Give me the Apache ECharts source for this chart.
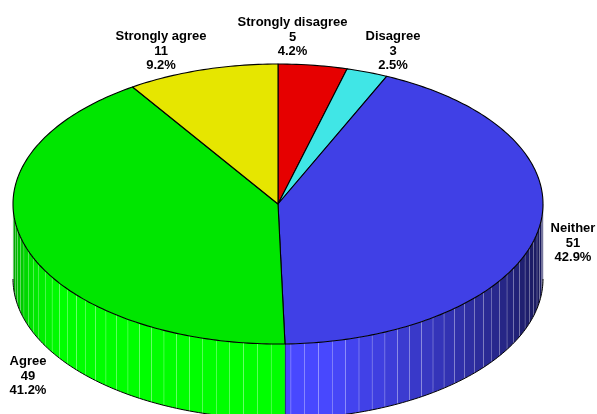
<!DOCTYPE html>
<html>
<head>
<meta charset="utf-8">
<style>html,body{margin:0;padding:0;background:#fff}#c{width:597px;height:414px}</style>
<script src="https://cdn.jsdelivr.net/npm/echarts@6/dist/echarts.min.js"></script>
</head>
<body>
<div id="c"></div>
<script>
var categories = ['Strongly disagree', 'Disagree', 'Neither', 'Agree', 'Strongly agree'];
var values = [5, 3, 51, 49, 11];

// Styles and layout, kept apart from the data
var topColors = ['#E60000', '#40E6E6', '#4040E6', '#00E600', '#E6E600'];
var sideColors = [[255, 0, 0], [72, 255, 255], [72, 72, 255], [0, 255, 0], [255, 255, 0]];
var labelCentres = [[292.5, 37], [393, 51], [573, 243], [28, 376], [161, 51]];
var shadeStops = [[90, .33], [110, .42], [130, .6], [150, .8], [170, 1], [235, 1], [250, .88], [270, .56]];
var CX = 278, CY = 204, RX = 265, RY = 140, DEPTH = 75, STEP = 3, SEAM = 0.14;

var total = values.reduce(function (a, b) { return a + b; }, 0);
var starts = [];
values.reduce(function (s, v, i) { starts[i] = s; return s + v; }, 0);

function pt(deg, dy, dx) {
  var r = deg * Math.PI / 180;
  return [CX + RX * Math.sin(r) + (dx || 0), CY - RY * Math.cos(r) + (dy || 0)];
}
function shade(deg) {
  for (var i = 1; i < shadeStops.length; i++) {
    if (deg <= shadeStops[i][0]) {
      return echarts.number.linearMap(deg, [shadeStops[i - 1][0], shadeStops[i][0]], [shadeStops[i - 1][1], shadeStops[i][1]]);
    }
  }
  return shadeStops[shadeStops.length - 1][1];
}
function toAngle(v) { return echarts.number.linearMap(v, [0, total], [0, 360]); }

function renderItem(params, api) {
  var i = params.dataIndex, v = api.value(0);
  var a0 = toAngle(starts[i]), a1 = toAngle(starts[i] + v);
  var children = [];

  // side strips, visible only on the front half
  var lo = Math.max(a0, 90), hi = Math.min(a1, 270), base = sideColors[i];
  if (hi > lo) {
    for (var a = a0; a < hi; a += STEP) {
      var s = Math.max(a, lo), e = Math.min(a + STEP, hi);
      if (e <= s) continue;
      var f = shade((s + e) / 2);
      children.push({
        type: 'polygon', silent: true,
        shape: { points: [pt(s, 0, -SEAM), pt(e, 0, SEAM), pt(e, DEPTH, SEAM), pt(s, DEPTH, -SEAM)] },
        style: { fill: 'rgb(' + base.map(function (c) { return Math.round(c * f); }).join(',') + ')', stroke: null }
      });
    }
    var arc = [];
    for (var b = lo; b < hi; b += 1) arc.push(pt(b, DEPTH));
    arc.push(pt(hi, DEPTH));
    children.push({ type: 'polyline', silent: true, shape: { points: arc }, style: { stroke: '#000', lineWidth: 1, fill: null } });
    if (a1 < 270 && a1 > 90) {
      children.push({ type: 'line', silent: true, shape: { x1: pt(a1)[0], y1: pt(a1)[1], x2: pt(a1, DEPTH)[0], y2: pt(a1, DEPTH)[1] },
        style: { stroke: '#1c1c70', lineWidth: 1.5 } });
    }
  }

  // top wedge
  var pts = [[CX, CY]];
  for (var t = a0; t < a1; t += 1) pts.push(pt(t));
  pts.push(pt(a1));
  children.push({
    type: 'polygon', silent: true, shape: { points: pts },
    style: { fill: topColors[i], stroke: '#000', lineWidth: 1.1, lineJoin: 'round' }
  });

  // label
  children.push({
    type: 'text', silent: true,
    style: {
      x: labelCentres[i][0], y: labelCentres[i][1],
      text: categories[i] + '\n' + v + '\n' + (v / total * 100).toFixed(1) + '%',
      align: 'center', verticalAlign: 'middle', lineHeight: 14.5,
      font: 'bold 13px "Liberation Sans", Arial, sans-serif', fill: '#000'
    }
  });
  return { type: 'group', children: children };
}

var chart = echarts.init(document.getElementById('c'), null, { renderer: 'canvas' });
chart.setOption({
  animation: false,
  backgroundColor: '#fff',
  series: [{
    type: 'custom',
    coordinateSystem: 'none',
    renderItem: renderItem,
    data: values.map(function (v, i) { return { name: categories[i], value: [v] }; })
  }]
});
</script>
</body>
</html>
